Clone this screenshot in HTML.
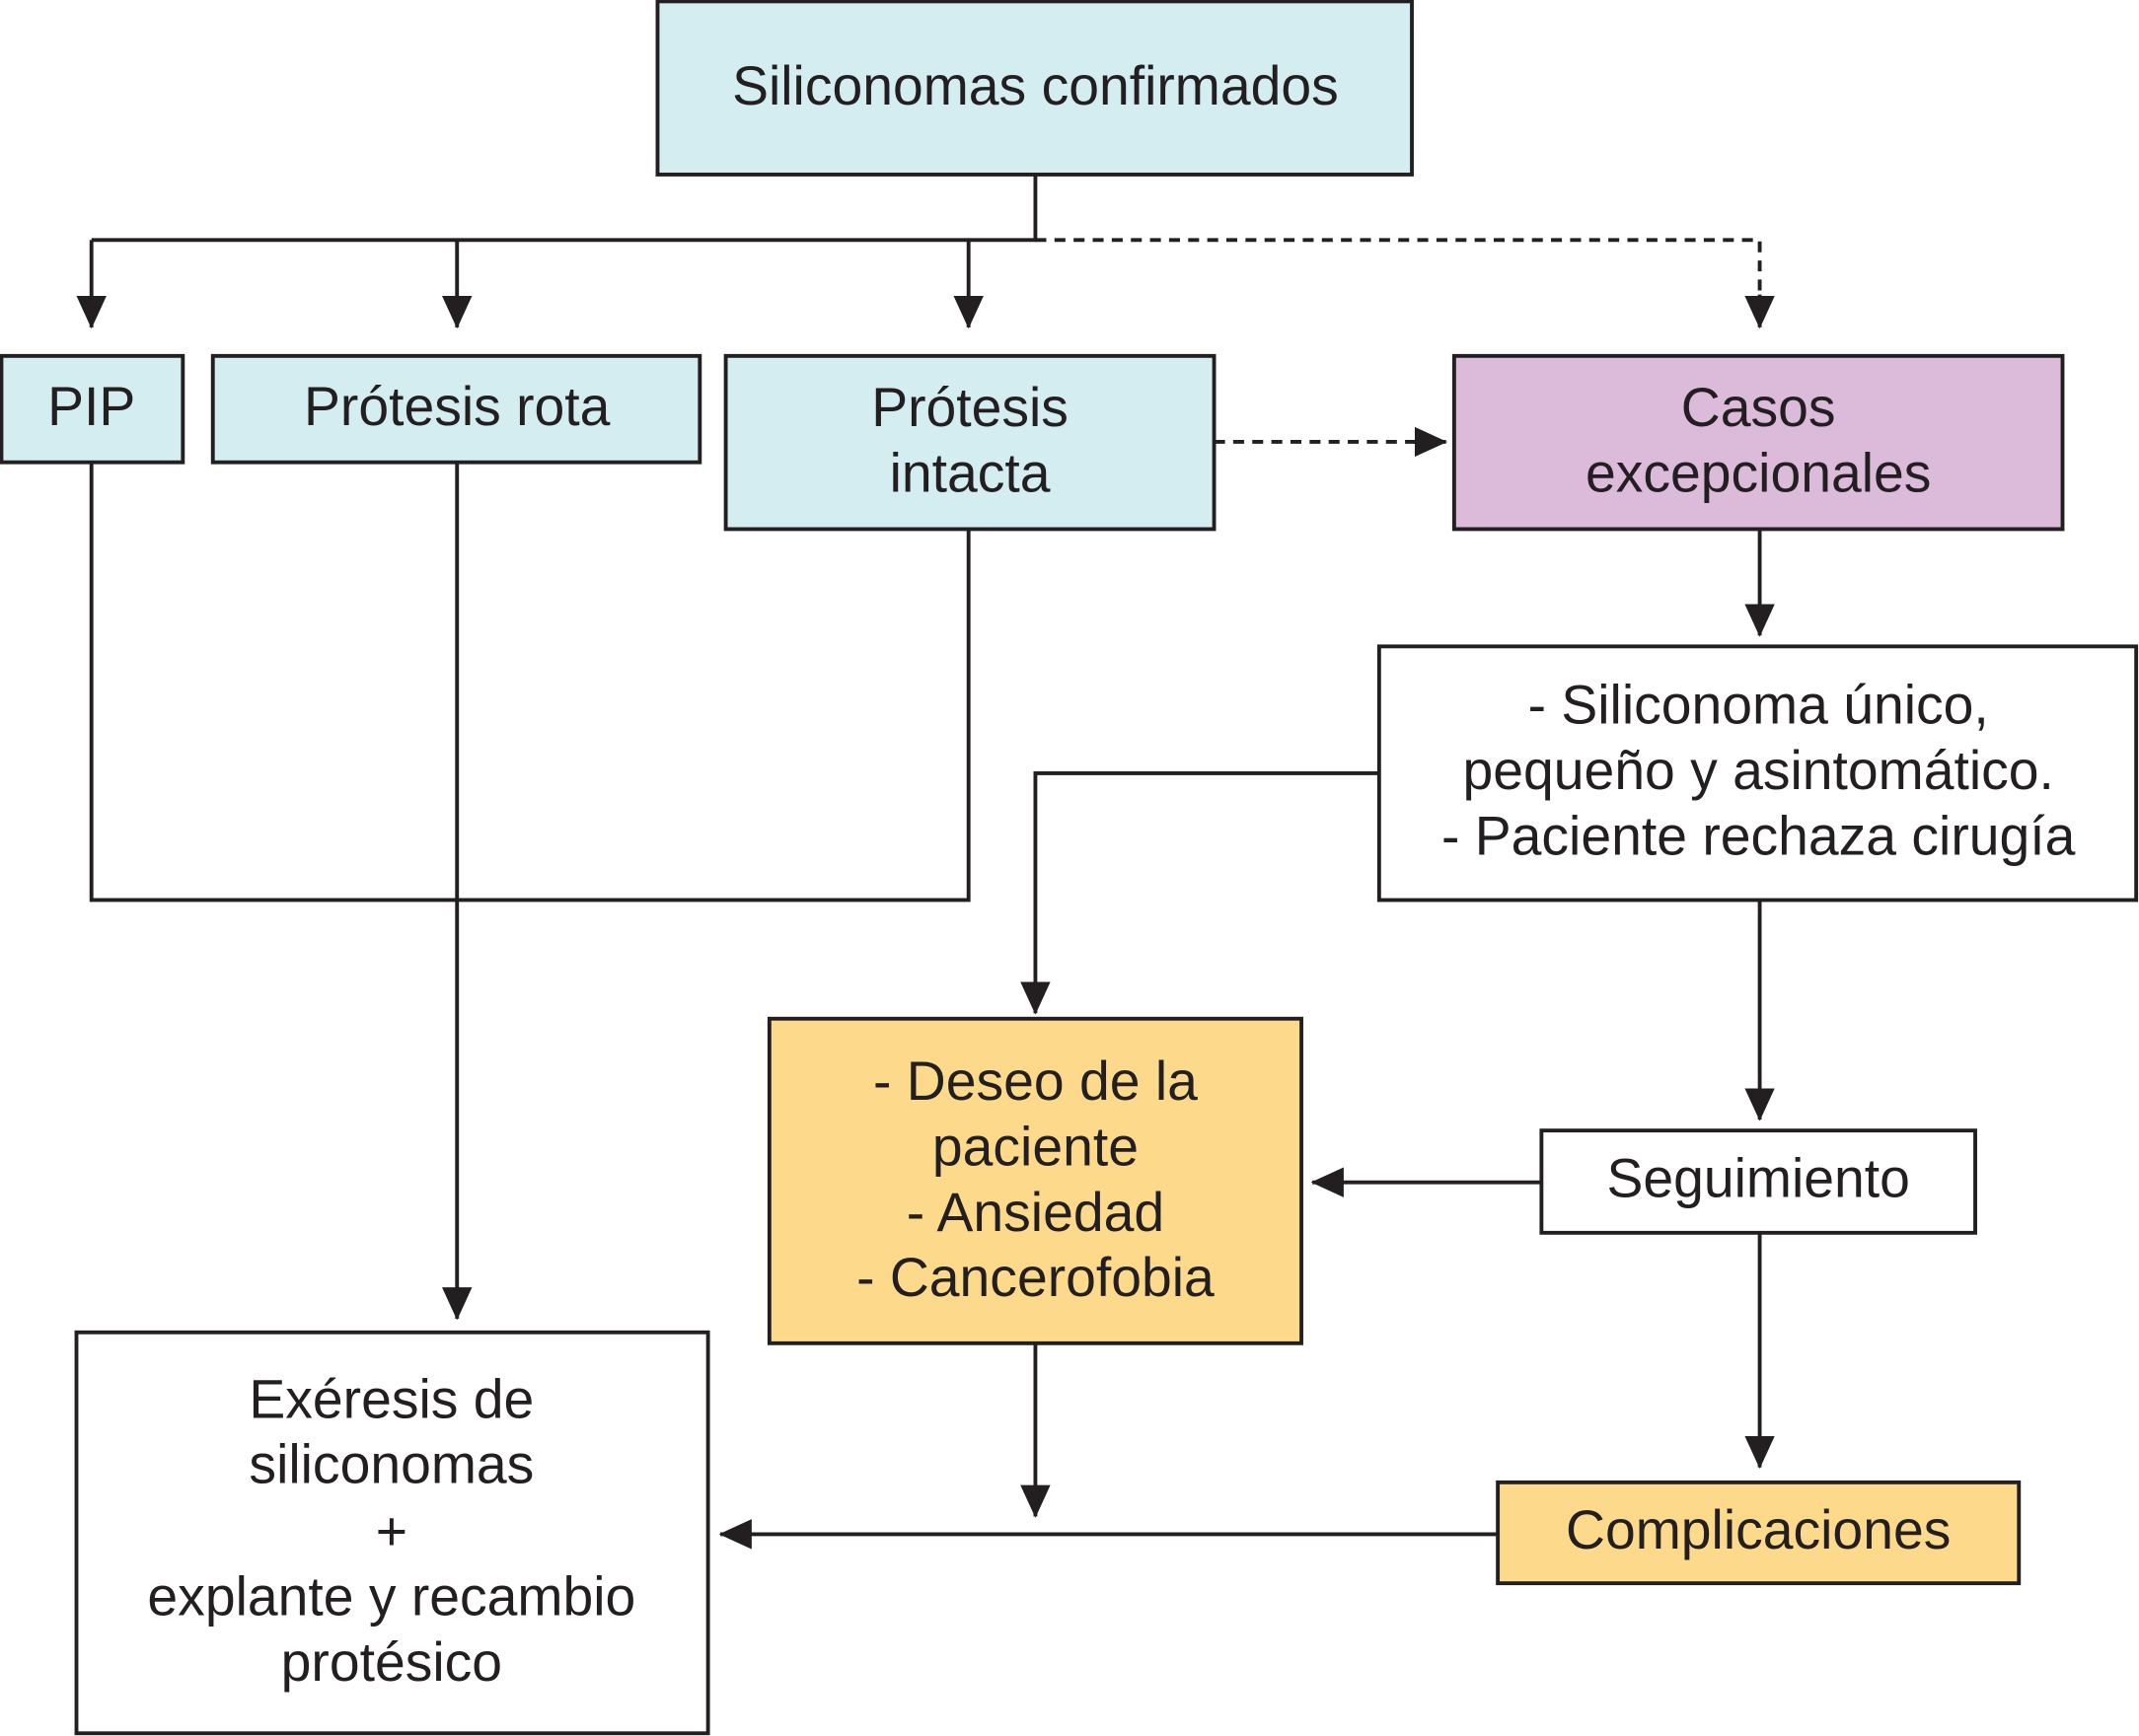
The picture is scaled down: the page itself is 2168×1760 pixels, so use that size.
<!DOCTYPE html>
<html><head><meta charset="utf-8"><style>html,body{margin:0;padding:0;background:#fff}svg{display:block}</style></head>
<body>
<svg width="2168" height="1760" viewBox="0 0 1568 1273" xmlns="http://www.w3.org/2000/svg">
<defs>
<marker id="a" markerWidth="24" markerHeight="22" refX="23" refY="11" orient="auto" markerUnits="userSpaceOnUse" viewBox="0 0 24 22"><path d="M0,0 L24,11 L0,22 z" fill="#231f20"/></marker>
</defs>
<style>
text{font-family:"Liberation Sans",Arial,sans-serif;font-size:40px;fill:#231f20;text-anchor:middle;dominant-baseline:middle}
.b{stroke:#231f20;stroke-width:2.8}
.l{stroke:#231f20;stroke-width:2.8;fill:none}
.d{stroke:#231f20;stroke-width:2.8;fill:none;stroke-dasharray:8,6}
</style>
<rect class="b" x="482" y="1" width="553" height="127" fill="#d3edf0"/>
<rect class="b" x="1" y="261" width="133" height="78" fill="#d3edf0"/>
<rect class="b" x="156" y="261" width="357" height="78" fill="#d3edf0"/>
<rect class="b" x="532" y="261" width="358" height="127" fill="#d3edf0"/>
<rect class="b" x="1066" y="261" width="446" height="127" fill="#dbbbd9"/>
<rect class="b" x="1011" y="474" width="555" height="186" fill="#fff"/>
<rect class="b" x="564" y="747" width="390" height="238" fill="#fdd98b"/>
<rect class="b" x="1130" y="829" width="318" height="75" fill="#fff"/>
<rect class="b" x="1098" y="1087" width="382" height="74" fill="#fdd98b"/>
<rect class="b" x="56" y="977" width="463" height="294" fill="#fff"/>
<path class="l" d="M759,128 V176 H67"/>
<path class="l" d="M67,176 V240" marker-end="url(#a)"/>
<path class="l" d="M335,176 V240" marker-end="url(#a)"/>
<path class="l" d="M710,176 V240" marker-end="url(#a)"/>
<path class="d" d="M759,176 H1290 V222"/>
<path class="l" d="M1290,216 V240" marker-end="url(#a)"/>
<path class="d" d="M890,324 H1040"/>
<path class="l" d="M1036,324 H1060" marker-end="url(#a)"/>
<path class="l" d="M1290,388 V466" marker-end="url(#a)"/>
<path class="l" d="M67,339 V660 H710 V388"/>
<path class="l" d="M335,339 V967" marker-end="url(#a)"/>
<path class="l" d="M1011,567 H759 V743" marker-end="url(#a)"/>
<path class="l" d="M1290,660 V821" marker-end="url(#a)"/>
<path class="l" d="M1130,867 H962" marker-end="url(#a)"/>
<path class="l" d="M1290,904 V1076" marker-end="url(#a)"/>
<path class="l" d="M759,985 V1112" marker-end="url(#a)"/>
<path class="l" d="M1098,1125 H528" marker-end="url(#a)"/>
<text x="759" y="66">Siliconomas confirmados</text>
<text x="67" y="301">PIP</text>
<text x="335" y="301">Prótesis rota</text>
<text x="711" y="302">Prótesis</text>
<text x="711" y="350">intacta</text>
<text x="1289" y="302">Casos</text>
<text x="1289" y="350">excepcionales</text>
<text x="1289" y="520">- Siliconoma único,</text>
<text x="1289" y="568">pequeño y asintomático.</text>
<text x="1289" y="616">- Paciente rechaza cirugía</text>
<text x="759" y="796">- Deseo de la</text>
<text x="759" y="844">paciente</text>
<text x="759" y="892">- Ansiedad</text>
<text x="759" y="940">- Cancerofobia</text>
<text x="1289" y="867">Seguimiento</text>
<text x="1289" y="1125">Complicaciones</text>
<text x="287" y="1029">Exéresis de</text>
<text x="287" y="1077">siliconomas</text>
<text x="287" y="1126">+</text>
<text x="287" y="1174">explante y recambio</text>
<text x="287" y="1222">protésico</text>
</svg>
</body></html>
